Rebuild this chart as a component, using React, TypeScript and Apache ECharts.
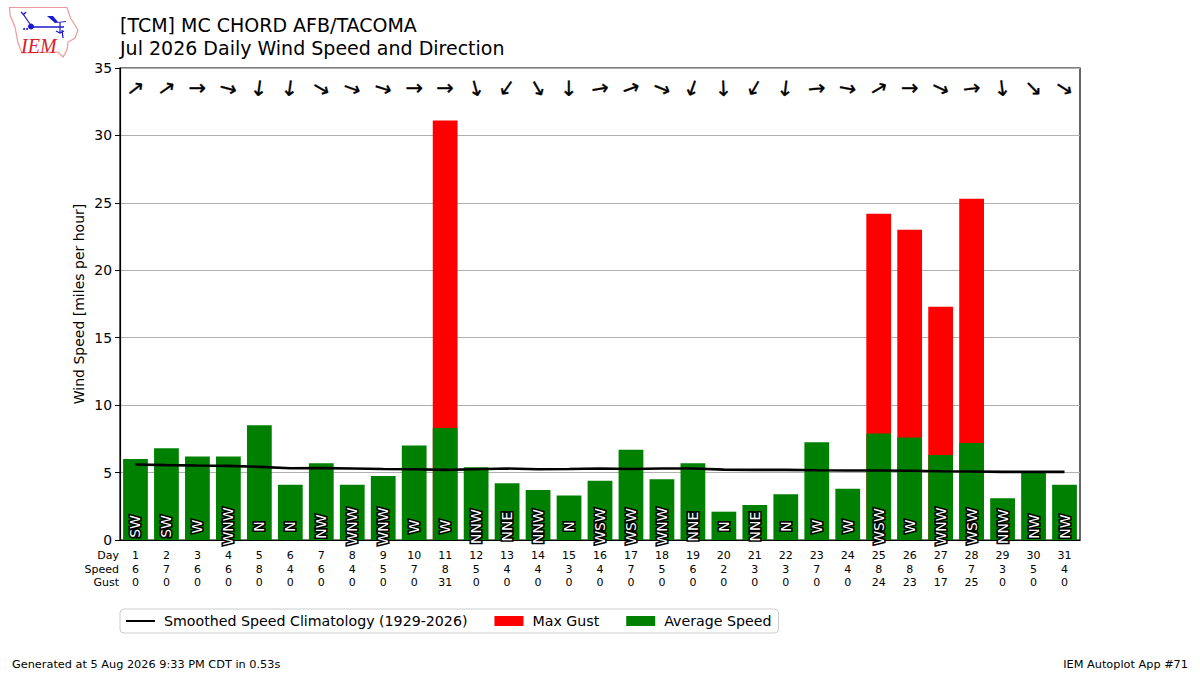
import React, { useEffect, useRef } from "react";
import * as echarts from "echarts";

const days = ["1","2","3","4","5","6","7","8","9","10","11","12","13","14","15","16","17","18","19","20","21","22","23","24","25","26","27","28","29","30","31"];
const speedRow = [6,7,6,6,8,4,6,4,5,7,8,5,4,4,3,4,7,5,6,2,3,3,7,4,8,8,6,7,3,5,4];
const gustRow = [0,0,0,0,0,0,0,0,0,0,31,0,0,0,0,0,0,0,0,0,0,0,0,0,24,23,17,25,0,0,0];
const avgSpeed = [6.0,6.8,6.2,6.2,8.5,4.1,5.7,4.1,4.75,7.0,8.3,5.4,4.2,3.7,3.3,4.4,6.7,4.5,5.7,2.1,2.6,3.4,7.25,3.8,7.9,7.6,6.3,7.2,3.1,5.0,4.1];
const maxGust = [0,0,0,0,0,0,0,0,0,0,31.1,0,0,0,0,0,0,0,0,0,0,0,0,0,24.2,23.0,17.3,25.3,0,0,0];
const climatology = [5.6,5.55,5.52,5.5,5.42,5.32,5.33,5.3,5.27,5.25,5.2,5.25,5.3,5.25,5.27,5.3,5.27,5.3,5.3,5.22,5.2,5.2,5.17,5.15,5.15,5.13,5.1,5.08,5.05,5.05,5.05];
const dirNames = ["SW","SW","W","WNW","N","N","NW","WNW","WNW","W","W","NNW","NNE","NNW","N","WSW","WSW","WNW","NNE","N","NNE","N","W","W","WSW","W","WNW","WSW","NNW","NW","NW"];
const arrowHeading = [52,55,90,105,188,188,120,110,107,90,90,165,215,150,180,80,70,112,200,178,210,187,85,100,60,90,115,83,173,135,122];
const yTicks = { min: 0, max: 35, interval: 5 };
const arrowLevel = 33.5;
const labelLevel = 1;

const FONT = "DejaVu Sans";

export default function App() {
  const ref = useRef<HTMLDivElement>(null);
  useEffect(() => {
    const chart = echarts.init(ref.current!, null, { renderer: "svg" });
    chart.setOption({
      animation: false,
      backgroundColor: "#fff",
      textStyle: { fontFamily: FONT },
      title: {
        text: "[TCM] MC CHORD AFB/TACOMA\nJul 2026 Daily Wind Speed and Direction",
        left: 120, top: 13,
        padding: 0,
        textStyle: { fontFamily: FONT, fontSize: 19, fontWeight: "normal", color: "#000", lineHeight: 23.5 },
      },
      grid: { left: 120, right: 120, top: 68, bottom: 135, show: true, borderColor: "#000", borderWidth: 1.2, backgroundColor: "transparent" },
      legend: {
        left: 120, top: 609,
        padding: [5, 7, 5, 5],
        itemGap: 27, itemWidth: 29, itemHeight: 10,
        borderColor: "#ccc", borderWidth: 1, borderRadius: 4,
        textStyle: { fontFamily: FONT, fontSize: 14.2, color: "#000", padding: [0, 0, 0, 4] },
        data: [
          { name: "Smoothed Speed Climatology (1929-2026)", itemStyle: { color: "rgba(0,0,0,0)", borderColor: "rgba(0,0,0,0)", borderWidth: 0 } },
          { name: "Max Gust", icon: "rect" },
          { name: "Average Speed", icon: "rect" },
        ],
      },
      xAxis: {
        type: "category",
        data: days,
        axisLine: { lineStyle: { color: "#000", width: 1.2 } },
        axisTick: { alignWithLabel: true, length: 4, lineStyle: { color: "#000", width: 1 } },
        splitLine: { show: false },
        axisLabel: {
          interval: 0, margin: 9, fontSize: 11, lineHeight: 13.5, color: "#000", fontFamily: FONT,
          formatter: (_: string, i: number) => `${days[i]}\n${speedRow[i]}\n${gustRow[i]}`,
        },
      },
      yAxis: {
        type: "value",
        ...yTicks,
        name: "Wind Speed [miles per hour]",
        nameLocation: "middle",
        nameGap: 34,
        nameMoveOverlap: false,
        nameTextStyle: { fontFamily: FONT, fontSize: 14, color: "#000" },
        axisLine: { show: true, lineStyle: { color: "#000", width: 1.2 } },
        axisTick: { show: true, length: 5, lineStyle: { color: "#000", width: 1 } },
        splitLine: { show: true, lineStyle: { color: "#b0b0b0", width: 1 } },
        axisLabel: { fontSize: 13.9, color: "#000", fontFamily: FONT, margin: 8 },
      },
      series: [
        { name: "Max Gust", type: "bar", data: maxGust, barWidth: "80%", barGap: "-100%", itemStyle: { color: "#ff0000" }, z: 2, silent: true },
        { name: "Average Speed", type: "bar", data: avgSpeed, barWidth: "80%", barGap: "-100%", itemStyle: { color: "#008000" }, z: 3, silent: true },
        {
          name: "Smoothed Speed Climatology (1929-2026)", type: "line", data: climatology, symbol: "none", smooth: false,
          lineStyle: { color: "#000", width: 2.6 }, itemStyle: { color: "#000" }, z: 4, silent: true,
        },
        {
          name: "dirLabels", type: "scatter", symbolSize: 1, itemStyle: { color: "transparent", opacity: 1 }, z: 6, silent: true,
          data: dirNames.map((d, i) => ({ value: [i, labelLevel], name: d })),
          label: {
            show: true, position: "inside", rotate: 90, align: "center", verticalAlign: "middle", opacity: 1,
            formatter: (p: any) => p.name,
            fontFamily: FONT, fontSize: 14, color: "#fff", textBorderColor: "#000", textBorderWidth: 3.2,
          },
        },
        {
          name: "arrows", type: "scatter", symbolSize: 1, itemStyle: { color: "transparent", opacity: 1 }, z: 6, silent: true,
          data: arrowHeading.map((h, i) => ({ value: [i, arrowLevel], label: { rotate: 90 - h } })),
          label: {
            show: true, position: "inside", align: "center", verticalAlign: "middle", opacity: 1,
            formatter: "→", fontFamily: FONT, fontSize: 21, color: "#000", textBorderColor: "#000", textBorderWidth: 0.3,
          },
        },
      ],
      graphic: [
        { type: "text", x: 119, y: 550, style: { text: "Day", align: "right", font: `11px "${FONT}"`, fill: "#000" } },
        { type: "text", x: 119, y: 564, style: { text: "Speed", align: "right", font: `11px "${FONT}"`, fill: "#000" } },
        { type: "text", x: 119, y: 577, style: { text: "Gust", align: "right", font: `11px "${FONT}"`, fill: "#000" } },
        { type: "text", x: 12, y: 659, style: { text: "Generated at 5 Aug 2026 9:33 PM CDT in 0.53s", font: `11.3px "${FONT}"`, fill: "#000" } },
        { type: "text", x: 1188, y: 659, style: { text: "IEM Autoplot App #71", align: "right", font: `11.3px "${FONT}"`, fill: "#000" } },
        {
          type: "polygon",
          shape: { points: [[9.5,7.5],[67,7.5],[70.5,18],[78,30],[75,38],[68,42],[67,50],[63,57],[58,52],[22,53],[18,43],[15,27],[10,15]] },
          style: { fill: "#fff", stroke: "#ee9a9a", lineWidth: 1.2 },
        },
        { type: "line", shape: { x1: 31, y1: 27, x2: 64, y2: 27 }, style: { stroke: "#1a1ad0", lineWidth: 1.6 } },
        { type: "circle", shape: { cx: 31, cy: 26.5, r: 3 }, style: { fill: "#1a1ad0" } },
        { type: "polyline", shape: { points: [[30,24],[23,14],[21,12]] }, style: { stroke: "#1a1ad0", lineWidth: 1.2, fill: "none" } },
        { type: "line", shape: { x1: 23, y1: 15, x2: 26, y2: 12 }, style: { stroke: "#1a1ad0", lineWidth: 1.2 } },
        { type: "polygon", shape: { points: [[47,16],[53,16],[58,22],[66,21],[66,22],[55,23]] }, style: { fill: "#1a1ad0" } },
        { type: "line", shape: { x1: 60, y1: 22, x2: 60, y2: 33 }, style: { stroke: "#1a1ad0", lineWidth: 1.2 } },
        { type: "polyline", shape: { points: [[56,31],[60,33],[64,31]] }, style: { stroke: "#1a1ad0", lineWidth: 1.2, fill: "none" } },
        { type: "line", shape: { x1: 62, y1: 30, x2: 63, y2: 38 }, style: { stroke: "#1a1ad0", lineWidth: 1.2 } },
        { type: "circle", shape: { cx: 24, cy: 29, r: 1 }, style: { fill: "#1a1ad0" } },
        { type: "circle", shape: { cx: 27, cy: 29, r: 1 }, style: { fill: "#1a1ad0" } },
        { type: "text", x: 21, y: 36, style: { text: "IEM", font: 'italic 20px "Liberation Serif"', fill: "#d8202a" } },
      ],
    });
    return () => chart.dispose();
  }, []);
  return <div ref={ref} style={{ width: 1200, height: 675, position: "absolute", left: 0, top: 0 }} />;
}
